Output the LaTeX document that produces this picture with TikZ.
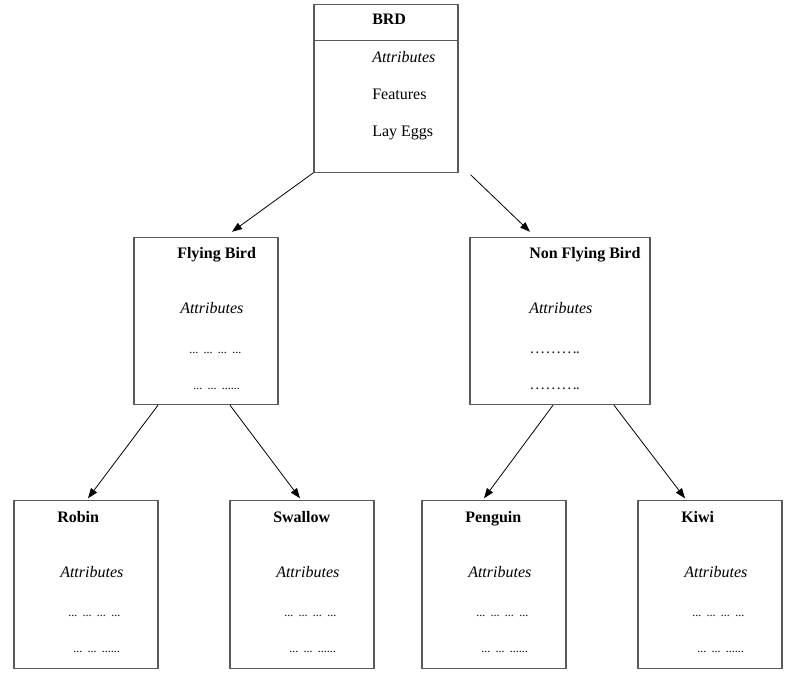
\documentclass[tikz,border=0pt]{standalone}
\usepackage{fontspec}
\setmainfont{Liberation Serif}
\usetikzlibrary{arrows.meta,calc}

\newcommand{\dotgrp}{...\hspace{4pt}}
\newcommand{\dotsa}{{\fontsize{9}{10}\selectfont\dotgrp\dotgrp\dotgrp...}}
\newcommand{\dotsb}{{\fontsize{9}{10}\selectfont\dotgrp\dotgrp......}}

\begin{document}
\begin{tikzpicture}[x=0.75pt, y=-0.75pt,
        birdbox/.style={draw=black!65, line width=0.8pt, inner sep=0pt,
                        minimum width=108pt, minimum height=125.5pt},
        txt/.style={anchor=west, inner sep=0pt, text height=9pt, text depth=1pt,
                    font=\fontsize{12}{14}\selectfont},
        arrow/.style={-{Triangle[length=7.5pt, width=5.5pt]}, line width=0.6pt}]
    \useasboundingbox (0,0) rectangle (795,673);

    % top class
    \node[birdbox, minimum height=125.5pt] (brd) at (386,88.5) {};
    \draw[draw=black!65, line width=0.8pt] ($(brd.north west)+(0,36)$) -- ($(brd.north east)+(0,36)$);
    \node[txt, font=\fontsize{12}{14}\selectfont\bfseries] (brdtitle) at (372,19) {BRD};
    \node[txt, font=\fontsize{12}{14}\selectfont\itshape] (brdattr) at (372,57) {Attributes};
    \node[txt] (brdfeat) at (372,94) {Features};
    \node[txt] (brdeggs) at (372,131) {Lay Eggs};

    % middle classes
    \node[birdbox] (flying) at (206,321) {};
    \node[txt, font=\fontsize{12}{14}\selectfont\bfseries] (flyingtitle) at (177,253) {Flying Bird};
    \node[txt, font=\fontsize{12}{14}\selectfont\itshape] (flyingattr) at (180,308) {Attributes};
    \node[txt] (flyingdots1) at (189,348) {\dotsa};
    \node[txt] (flyingdots2) at (193,384) {\dotsb};

    \node[birdbox, minimum width=135pt] (nonfly) at (560,321) {};
    \node[txt, font=\fontsize{12}{14}\selectfont\bfseries] (nonflytitle) at (529,253) {Non Flying Bird};
    \node[txt, font=\fontsize{12}{14}\selectfont\itshape] (nonflyattr) at (529,308) {Attributes};
    \node[txt, text=black!85] (nonflydots1) at (529,348) {………\kern-1pt.};
    \node[txt, text=black!85] (nonflydots2) at (529,384) {………\kern-1pt.};

    % leaf classes
    \foreach \nm/\lx/\ttl in {robin/14/Robin, swallow/230/Swallow, penguin/422/Penguin, kiwi/638/Kiwi}{
        \node[birdbox] (\nm) at (\lx+72,584.5) {};
        \node[txt, font=\fontsize{12}{14}\selectfont\bfseries] (\nm title) at (\lx+43,517) {\ttl};
        \node[txt, font=\fontsize{12}{14}\selectfont\itshape] (\nm attr) at (\lx+46,572) {Attributes};
        \node[txt] (\nm dots1) at (\lx+54,611) {\dotsa};
        \node[txt] (\nm dots2) at (\lx+59,647) {\dotsb};
    }

    \draw[arrow] (brd.south west) -- ($(flying.north)+(26,-5)$);
    \draw[arrow] ($(brd.south east)+(12,2)$) -- ($(nonfly.north)+(-30,-5)$);
    \draw[arrow] ($(flying.south)+(-48,0)$) -- ($(robin.north)+(2,-2)$);
    \draw[arrow] ($(flying.south)+(24,0)$) -- ($(swallow.north)+(-2,-2)$);
    \draw[arrow] ($(nonfly.south)+(-7,0)$) -- ($(penguin.north)+(-10,-2)$);
    \draw[arrow] ($(nonfly.south)+(54,0)$) -- ($(kiwi.north)+(-25,-2)$);
\end{tikzpicture}
\end{document}
